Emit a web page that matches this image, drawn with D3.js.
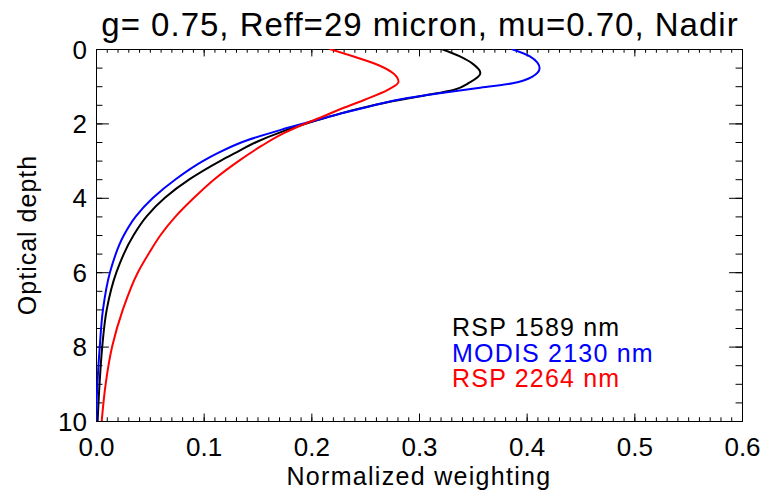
<!DOCTYPE html>
<html>
<head>
<meta charset="utf-8">
<script src="https://cdn.jsdelivr.net/npm/d3@7"></script>
<style>
  body { margin: 0; background: #fff; }
  svg text { font-family: "Liberation Sans", Arial, Helvetica, sans-serif; }
</style>
</head>
<body>
<svg id="chart" width="764" height="495"></svg>
<script>
// optical depth samples and weighting for each channel
const tauBlack = [0, 0.2, 0.4, 0.65, 0.9, 1.1, 1.25, 1.42, 1.6, 1.75, 1.91, 2.22, 2.5, 2.8, 3, 3.5, 4, 4.5, 5, 6, 7, 8, 9, 10];
const rsp1589 = [0.321, 0.338, 0.350, 0.357, 0.347, 0.332, 0.305, 0.273, 0.245, 0.225, 0.206, 0.173, 0.149, 0.129, 0.116, 0.087, 0.064, 0.047, 0.035, 0.019, 0.010, 0.0058, 0.0033, 0.0015];

const tauBlue = [0, 0.2, 0.52, 0.75, 0.92, 1.05, 1.19, 1.35, 1.55, 1.7, 1.91, 2.18, 2.5, 2.8, 3, 3.5, 4, 4.5, 5, 6, 7, 8, 9, 10];
const modis2130 = [0.386, 0.403, 0.412, 0.405, 0.387, 0.355, 0.319, 0.283, 0.253, 0.232, 0.205, 0.171, 0.136, 0.113, 0.100, 0.074, 0.053, 0.037, 0.026, 0.013, 0.0065, 0.0035, 0.0013, 0.0];

const tauRed = [0, 0.21, 0.43, 0.65, 0.88, 1.1, 1.37, 1.64, 1.8, 1.95, 2.27, 2.6, 3, 3.5, 4, 4.5, 5, 5.5, 6, 7, 8, 9, 10];
const rsp2264 = [0.217, 0.240, 0.262, 0.276, 0.281, 0.271, 0.249, 0.225, 0.212, 0.199, 0.174, 0.154, 0.133, 0.110, 0.091, 0.074, 0.060, 0.049, 0.039, 0.025, 0.015, 0.009, 0.0053];

const seriesNames = ["RSP 1589 nm", "MODIS 2130 nm", "RSP 2264 nm"];
const seriesColors = ["#000000", "#0000ff", "#ff0000"];
const xMajor = [0, 0.1, 0.2, 0.3, 0.4, 0.5, 0.6];
const yMajor = [0, 2, 4, 6, 8, 10];

const svg = d3.select("#chart");
const pLeft = 96, pRight = 742, pTop = 49, pBottom = 421;

const x = d3.scaleLinear().domain([0, 0.6]).range([pLeft, pRight]);
const y = d3.scaleLinear().domain([0, 10]).range([pTop, pBottom]);

const xMinor = d3.range(0, 61).map(i => i / 100);
const yMinor = d3.range(0, 21).map(i => i / 2);

// x ticks are 2% of plot height, y ticks 2% of plot width (IDL style)
const xt = 0.02 * (pBottom - pTop), yt = 0.02 * (pRight - pLeft);

function styleAxis(g) {
  g.selectAll("path.domain").attr("stroke", "#000").attr("stroke-width", 1);
  g.selectAll("line").attr("stroke", "#000").attr("stroke-width", 1);
  g.selectAll("text").attr("fill", "#000").style("font-size", "26px")
    .style("font-family", "'Liberation Sans', Arial, sans-serif");
}

// bottom axis
svg.append("g").attr("transform", `translate(0,${pBottom})`)
  .call(d3.axisBottom(x).tickValues(xMinor).tickSize(-xt / 2).tickFormat(""))
  .call(styleAxis);
svg.append("g").attr("transform", `translate(0,${pBottom})`)
  .call(d3.axisBottom(x).tickValues(xMajor).tickSizeInner(-xt).tickSizeOuter(0)
    .tickPadding(8).tickFormat(d3.format(".1f")))
  .call(styleAxis)
  .call(g => g.selectAll("text").attr("dy", "0.71em").attr("y", 17));

// top axis
svg.append("g").attr("transform", `translate(0,${pTop})`)
  .call(d3.axisTop(x).tickValues(xMinor).tickSize(-xt / 2).tickFormat(""))
  .call(styleAxis);
svg.append("g").attr("transform", `translate(0,${pTop})`)
  .call(d3.axisTop(x).tickValues(xMajor).tickSize(-xt).tickFormat(""))
  .call(styleAxis);

// left axis
svg.append("g").attr("transform", `translate(${pLeft},0)`)
  .call(d3.axisLeft(y).tickValues(yMinor).tickSize(-yt / 2).tickFormat(""))
  .call(styleAxis);
svg.append("g").attr("transform", `translate(${pLeft},0)`)
  .call(d3.axisLeft(y).tickValues(yMajor).tickSizeInner(-yt).tickSizeOuter(0)
    .tickPadding(9).tickFormat(d3.format("d")))
  .call(styleAxis)
  .call(g => g.selectAll("text").attr("dy", "0.35em"));

// right axis
svg.append("g").attr("transform", `translate(${pRight},0)`)
  .call(d3.axisRight(y).tickValues(yMinor).tickSize(-yt / 2).tickFormat(""))
  .call(styleAxis);
svg.append("g").attr("transform", `translate(${pRight},0)`)
  .call(d3.axisRight(y).tickValues(yMajor).tickSize(-yt).tickFormat(""))
  .call(styleAxis);

// curves
svg.append("clipPath").attr("id", "plotclip")
  .append("rect").attr("x", pLeft).attr("y", pTop)
  .attr("width", pRight - pLeft).attr("height", pBottom - pTop);

const line = d3.line()
  .x(d => x(d[0]))
  .y(d => y(d[1]))
  .curve(d3.curveMonotoneY);

const curves = [
  d3.zip(rsp1589, tauBlack),
  d3.zip(modis2130, tauBlue),
  d3.zip(rsp2264, tauRed)
];

svg.append("g").attr("clip-path", "url(#plotclip)")
  .selectAll("path.curve")
  .data(curves)
  .enter().append("path")
  .attr("class", "curve")
  .attr("d", line)
  .attr("fill", "none")
  .attr("stroke", (d, i) => seriesColors[i])
  .attr("stroke-width", 2);

// legend
svg.append("g").selectAll("text")
  .data(seriesNames)
  .enter().append("text")
  .attr("x", 452)
  .attr("y", (d, i) => 336 + i * 25.5)
  .attr("fill", (d, i) => seriesColors[i])
  .style("font-size", "25px")
  .style("letter-spacing", "1.2px")
  .text(d => d);

// title and axis labels
svg.append("text")
  .attr("x", (pLeft + pRight) / 2 + 1).attr("y", 36)
  .attr("text-anchor", "middle")
  .style("font-size", "33px")
  .style("letter-spacing", "1px")
  .text("g= 0.75, Reff=29 micron, mu=0.70, Nadir");

svg.append("text")
  .attr("x", (pLeft + pRight) / 2).attr("y", 485)
  .attr("text-anchor", "middle")
  .style("font-size", "25px")
  .style("letter-spacing", "1.3px")
  .text("Normalized weighting");

svg.append("text")
  .attr("transform", `translate(36,${(pTop + pBottom) / 2}) rotate(-90)`)
  .attr("text-anchor", "middle")
  .style("font-size", "25px")
  .style("letter-spacing", "1px")
  .text("Optical depth");
</script>
</body>
</html>
